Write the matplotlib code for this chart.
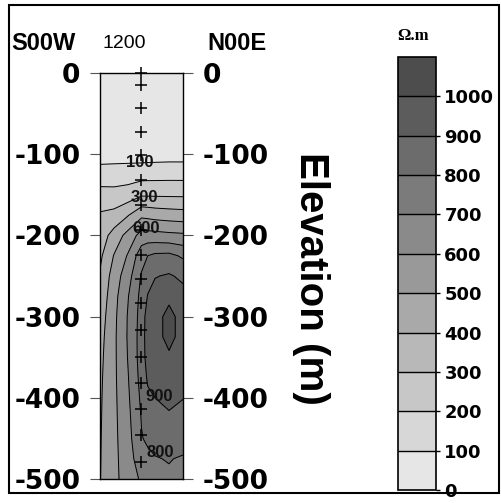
import matplotlib
matplotlib.use("Agg")
import matplotlib.pyplot as plt
import numpy as np
from matplotlib.patches import Rectangle

# --- Section data ---
# horizontal positions of the grid columns (m along the profile)
section_x = [0, 6.75, 13.5, 20, 23, 26.5, 33.25, 40]
# depth of each grid row (m)
section_depth = [0, -100, -125, -150, -175, -200, -225, -250, -275, -300,
                 -325, -350, -375, -400, -425, -450, -475, -500]
# apparent resistivity (ohm.m), one row per depth
resistivity = [
    [40, 40, 40, 40, 40, 40, 40, 40],
    [55, 55, 55, 55, 57, 58, 60, 60],
    [145, 150, 155, 160, 162, 163, 165, 165],
    [237, 232, 245, 288, 288, 287, 286, 285],
    [312, 330, 394, 477, 470, 460, 450, 443],
    [345, 440, 535, 640, 640, 635, 625, 618],
    [380, 505, 610, 760, 800, 820, 825, 785],
    [410, 545, 660, 810, 860, 895, 910, 882],
    [430, 565, 695, 830, 905, 935, 985, 930],
    [450, 575, 708, 840, 950, 975, 1020, 975],
    [465, 580, 710, 845, 955, 975, 1020, 975],
    [475, 580, 705, 845, 945, 965, 990, 960],
    [482, 580, 695, 835, 915, 940, 955, 935],
    [487, 578, 685, 820, 880, 900, 925, 902],
    [490, 577, 675, 805, 845, 865, 885, 875],
    [493, 576, 665, 795, 815, 830, 845, 845],
    [495, 575, 655, 760, 780, 795, 805, 790],
    [497, 575, 645, 715, 740, 760, 785, 760],
]

# sounding station and its measurement depths
station_x = 20
station_depths = [0, -15, -43, -73, -101, -132, -162, -193, -224, -254,
                  -283, -317, -350, -382, -414, -446, -479]

levels = list(range(0, 1200, 100))
band_colors = ['#e6e6e6', '#d7d7d7', '#c7c7c7', '#b8b8b8', '#a9a9a9', '#999999',
               '#8a8a8a', '#7b7b7b', '#6c6c6c', '#5c5c5c', '#4d4d4d']

# contour labels: level and where it sits (x, depth)
label_levels = [100, 300, 600, 900, 800]
label_x = [19.3, 21.2, 22.2, 28.4, 28.9]
label_depth = [-110, -153, -192, -399, -467]

yticks = [0, -100, -200, -300, -400, -500]

plt.rcParams['font.family'] = ['Liberation Sans', 'DejaVu Sans']
plt.rcParams['font.weight'] = 'bold'
plt.rcParams['axes.unicode_minus'] = False

W, H = 502, 503
fig = plt.figure(figsize=(W / 100, H / 100), dpi=100)


def fx(px):
    return px / W


def fy(py):
    return 1 - py / H


ax = fig.add_axes([fx(100), fy(479), 83 / W, 406 / H])

X, D = np.meshgrid(section_x, section_depth)
R = np.array(resistivity, dtype=float)
cf = ax.contourf(X, D, R, levels=levels, colors=band_colors)
ax.contour(X, D, R, levels=levels[1:-1], colors='black', linewidths=0.7)

for lev, lx, ld in zip(label_levels, label_x, label_depth):
    ax.text(lx, ld, f"{lev}", ha='center', va='center', fontsize=12,
            fontweight='bold', color='#111111')

ax.plot([station_x] * len(station_depths), station_depths, '+', color='black',
        markersize=8, mew=1.1, clip_on=False, zorder=5)

ax.set_xlim(0, 40)
ax.set_ylim(-500, 0)
ax.set_xticks([])
ax.set_yticks(yticks)
ax.tick_params(axis='y', left=True, right=True, labelleft=True, labelright=True,
               direction='out', length=7.2, width=0.8, color='#555555',
               pad=7, labelsize=19, labelfontfamily='DejaVu Sans')
for s in ax.spines.values():
    s.set_linewidth(1.0)
    s.set_color('black')

# --- Titles around the section ---
fig.text(fx(11), fy(44), 'S00W', ha='left', va='center', fontsize=17)
fig.text(fx(207), fy(44), 'N00E', ha='left', va='center', fontsize=17)
fig.text(fx(124), fy(43), '1200', ha='center', va='center', fontsize=14,
         fontweight='normal')
fig.text(fx(311), fy(278), 'Elevation (m)', ha='center', va='center',
         rotation=-90, fontsize=29)

# --- Colour scale ---
cax = fig.add_axes([fx(398), fy(490), 38 / W, 433 / H])
cb = fig.colorbar(cf, cax=cax, ticks=levels[:-1], drawedges=True)
cb.outline.set_linewidth(1.2)
cb.outline.set_edgecolor('black')
cb.dividers.set_linewidth(1.0)
cb.dividers.set_color('black')
cax.tick_params(length=3, width=1.0, direction='out', pad=3, labelsize=13,
                labelfontfamily='DejaVu Sans')
fig.text(fx(413), fy(36), 'Ω.m', ha='center', va='center', fontsize=12,
         fontfamily='Liberation Serif')

# outer frame
fig.add_artist(Rectangle((fx(9), fy(493)), (499 - 9) / W, (493 - 5) / H,
                         transform=fig.transFigure, fill=False, lw=1.5,
                         edgecolor='black'))

fig.savefig('out.png', dpi=100, facecolor='white')
plt.close(fig)
